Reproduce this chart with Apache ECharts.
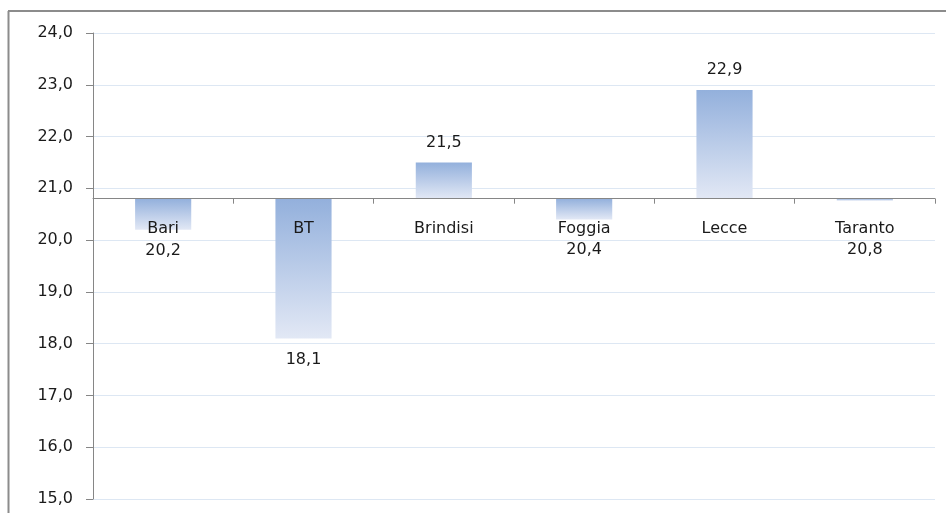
<!DOCTYPE html>
<html>
<head>
<meta charset="utf-8">
<script src="https://cdn.jsdelivr.net/npm/echarts@6/dist/echarts.min.js"></script>
<style>
html,body{margin:0;padding:0;background:#fff;}
#c{width:946px;height:513px;}
</style>
</head>
<body>
<div id="c"></div>
<script>
// ---- data ----
const categories = ['Bari', 'BT', 'Brindisi', 'Foggia', 'Lecce', 'Taranto'];
const values = [20.2, 18.1, 21.5, 20.4, 22.9, 20.8];
const baseline = 20.8;           // value where the category axis crosses
const yMin = 15, yMax = 24, yStep = 1;

// ---- layout ----
const gridTop = 33, gridBottom = 14, gridLeft = 93, gridRight = 11;
const plotH = 513 - gridTop - gridBottom;
const upperH = plotH * (yMax - baseline) / (yMax - yMin);

const fmt = v => v.toFixed(1).replace('.', ',');
const FONT = 'DejaVu Sans';

const chart = echarts.init(document.getElementById('c'), null, {renderer: 'canvas'});
chart.setOption({
  animation: false,
  backgroundColor: '#ffffff',
  textStyle: {fontFamily: FONT},
  graphic: [
    {type: 'line', shape: {x1: 8, y1: 11, x2: 946, y2: 11}, style: {stroke: '#8c8c8c', lineWidth: 2}, z: 100},
    {type: 'line', shape: {x1: 8.5, y1: 11, x2: 8.5, y2: 513}, style: {stroke: '#8c8c8c', lineWidth: 2}, z: 100}
  ],
  grid: [
    {left: gridLeft, right: gridRight, top: gridTop, bottom: gridBottom, containLabel: false},
    {left: gridLeft, right: gridRight, top: gridTop, height: upperH, containLabel: false}
  ],
  xAxis: [
    {type: 'category', gridIndex: 0, data: categories, show: false},
    {type: 'category', gridIndex: 1, data: categories, position: 'bottom',
     axisLine: {show: true, lineStyle: {color: '#868686', width: 1}},
     axisTick: {show: true, length: 5, interval: 0, lineStyle: {color: '#868686'}},
     axisLabel: {show: true, margin: 22, fontSize: 16, color: '#1a1a1a', fontFamily: FONT, interval: 0},
     splitLine: {show: false}, z: 10}
  ],
  yAxis: [
    {type: 'value', gridIndex: 0, min: yMin, max: yMax, interval: yStep,
     axisLine: {show: true, lineStyle: {color: '#868686', width: 1}},
     axisTick: {show: true, inside: false, length: 7, lineStyle: {color: '#868686'}},
     axisLabel: {margin: 20, fontSize: 16, color: '#1a1a1a', fontFamily: FONT, formatter: v => fmt(v)},
     splitLine: {show: true, lineStyle: {color: '#dde7f3', width: 1}}},
    {type: 'value', gridIndex: 1, min: 0, max: 1, show: false}
  ],
  series: [{
    type: 'custom',
    xAxisIndex: 0, yAxisIndex: 0,
    data: values.map((v, i) => [i, v]),
    z: 5,
    renderItem: function (params, api) {
      const i = api.value(0), v = api.value(1);
      const pv = api.coord([i, v]);
      const pb = api.coord([i, baseline]);
      const bw = api.size([1, 0])[0] * 0.4;
      let y0 = Math.min(pv[1], pb[1]);
      let h = Math.abs(pv[1] - pb[1]);
      if (h < 2) { h = 2; y0 = pb[1]; }
      const grad = new echarts.graphic.LinearGradient(0, 0, 0, 1, [
        {offset: 0, color: '#93b0dc'},
        {offset: 1, color: '#e2e8f5'}
      ]);
      let ly;
      if (v > baseline) ly = pv[1] - 20;
      else ly = Math.max(pv[1] + 21, pb[1] + 51.5);
      return {
        type: 'group',
        children: [
          {type: 'rect', shape: {x: pv[0] - bw / 2, y: y0, width: bw, height: h},
           style: {fill: grad}},
          {type: 'text', x: pv[0], y: ly,
           style: {text: fmt(v), fill: '#1a1a1a', font: '16px "' + FONT + '"',
                   align: 'center', verticalAlign: 'middle'}}
        ]
      };
    }
  }]
});
</script>
</body>
</html>
